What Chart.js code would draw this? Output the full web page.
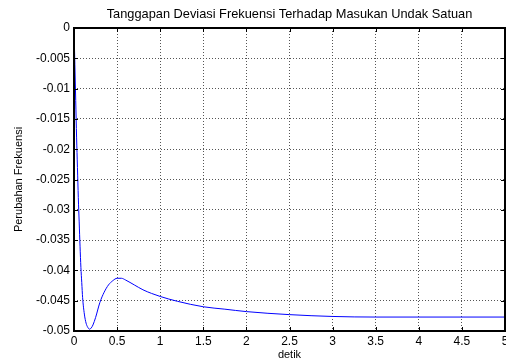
<!DOCTYPE html>
<html>
<head>
<meta charset="utf-8">
<script src="https://cdn.jsdelivr.net/npm/chart.js@4.4.0/dist/chart.umd.min.js"></script>
<style>
  html, body { margin: 0; padding: 0; background: #fff; }
  #wrap { width: 506px; height: 364px; }
</style>
</head>
<body>
<div id="wrap"><canvas id="c" width="506" height="364"></canvas></div>
<script>
var chartTitle = 'Tanggapan Deviasi Frekuensi Terhadap Masukan Undak Satuan';
var xLabel = 'detik';
var yLabel = 'Perubahan Frekuensi';

var timeValues = [0, 0.01, 0.02, 0.03, 0.04, 0.05, 0.06, 0.07, 0.08, 0.09, 0.1, 0.12, 0.14, 0.16, 0.18, 0.2,
    0.22, 0.25, 0.3, 0.35, 0.4, 0.45, 0.5, 0.55, 0.6, 0.7, 0.8, 0.9, 1.0, 1.2, 1.5, 1.75, 2.0, 2.5, 3.0, 3.5, 4.0, 5.0];
var deviationValues = [0, -0.006, -0.012, -0.018, -0.023, -0.028, -0.032, -0.036, -0.0395, -0.042, -0.0445, -0.0472, -0.0487, -0.0494, -0.0497, -0.0495,
    -0.0490, -0.0478, -0.0453, -0.0436, -0.0424, -0.0417, -0.0413, -0.0413, -0.0416, -0.0424, -0.0432, -0.0438, -0.0443, -0.0451, -0.0460, -0.0464, -0.0468, -0.0473, -0.0476, -0.0477, -0.0477, -0.0477];

var xTicks = [0, 0.5, 1, 1.5, 2, 2.5, 3, 3.5, 4, 4.5, 5];
var yTicks = [0, -0.005, -0.01, -0.015, -0.02, -0.025, -0.03, -0.035, -0.04, -0.045, -0.05];

var points = timeValues.map(function (t, i) {
    return { x: t, y: deviationValues[i] };
});

var font = 'Liberation Sans, Arial, sans-serif';

// frame, inward tick marks and a title centred over the axes, like the original plot
var framePlugin = {
    id: 'frame',
    afterDraw: function (chart) {
        var ctx = chart.ctx;
        var a = chart.chartArea;
        var xs = chart.scales.x, ys = chart.scales.y;
        ctx.save();
        ctx.strokeStyle = '#000';
        ctx.lineWidth = 1;
        ctx.beginPath();
        xTicks.forEach(function (v) {
            var px = Math.round(xs.getPixelForValue(v)) + 0.5;
            ctx.moveTo(px, a.bottom); ctx.lineTo(px, a.bottom - 4);
            ctx.moveTo(px, a.top); ctx.lineTo(px, a.top + 4);
        });
        yTicks.forEach(function (v) {
            var py = Math.round(ys.getPixelForValue(v)) + 0.5;
            ctx.moveTo(a.left, py); ctx.lineTo(a.left + 4, py);
            ctx.moveTo(a.right, py); ctx.lineTo(a.right - 4, py);
        });
        ctx.stroke();
        ctx.lineWidth = 2;
        ctx.strokeRect(a.left, a.top, a.right - a.left, a.bottom - a.top);

        ctx.fillStyle = '#000';
        ctx.font = '12.8px ' + font;
        ctx.textAlign = 'center';
        ctx.textBaseline = 'middle';
        ctx.fillText(chartTitle, (a.left + a.right) / 2, 14);
        ctx.restore();
    }
};

new Chart(document.getElementById('c'), {
    type: 'line',
    data: {
        datasets: [{
            data: points,
            borderColor: '#0000ff',
            borderWidth: 1,
            pointRadius: 0,
            fill: false,
            cubicInterpolationMode: 'monotone'
        }]
    },
    options: {
        responsive: false,
        animation: false,
        layout: { padding: { left: 0, right: 0, top: 28, bottom: 0 } },
        plugins: {
            legend: { display: false },
            tooltip: { enabled: false },
            title: { display: false }
        },
        scales: {
            x: {
                type: 'linear',
                min: 0,
                max: 5,
                afterBuildTicks: function (s) { s.ticks = xTicks.map(function (v) { return { value: v }; }); },
                afterFit: function (s) { s.height = 33; s.paddingRight = 1; s.paddingLeft = 0; },
                ticks: {
                    color: '#000',
                    font: { family: font, size: 12 },
                    padding: 3,
                    maxRotation: 0,
                    callback: function (v) { return String(v); }
                },
                grid: { color: '#555', lineWidth: 1, tickLength: 0, drawTicks: false },
                border: { display: false, dash: [1, 2] },
                title: {
                    display: true,
                    text: xLabel,
                    color: '#000',
                    font: { family: font, size: 11 },
                    padding: { top: 0, bottom: 2 }
                }
            },
            y: {
                type: 'linear',
                min: -0.05,
                max: 0,
                afterBuildTicks: function (s) { s.ticks = yTicks.map(function (v) { return { value: v }; }); },
                afterFit: function (s) { s.width = 74; },
                ticks: {
                    color: '#000',
                    font: { family: font, size: 12 },
                    padding: 4,
                    callback: function (v) { return String(v); }
                },
                grid: { color: '#555', lineWidth: 1, tickLength: 0, drawTicks: false },
                border: { display: false, dash: [1, 2] },
                title: {
                    display: true,
                    text: yLabel,
                    color: '#000',
                    font: { family: font, size: 11 },
                    padding: { top: 12, bottom: 4 }
                }
            }
        }
    },
    plugins: [framePlugin]
});
</script>
</body>
</html>
